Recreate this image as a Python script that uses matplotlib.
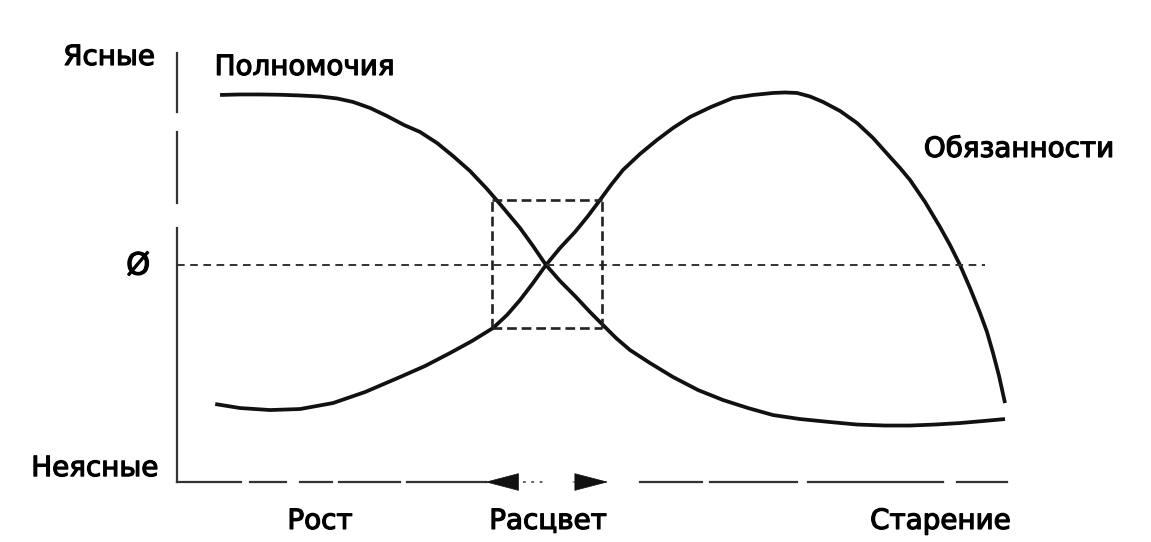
import matplotlib
matplotlib.use("Agg")
import matplotlib.pyplot as plt
import matplotlib.patheffects as pe

# Кривые жизненного цикла: время (0..100) и ясность (-100 = неясные, 100 = ясные)
power_x = [5.21, 7.63, 10.05, 12.47, 14.89, 17.31, 19.37, 21.31, 23.37, 25.42, 27.48,
           29.42, 31.48, 33.41, 35.47, 37.53, 39.10, 41.53, 43.10, 44.67, 46.37, 48.18,
           50.00, 51.57, 53.15, 54.84, 57.26, 60.05, 63.08, 66.10, 69.13, 72.15, 75.42,
           79.06, 82.32, 85.71, 88.74, 91.77, 94.79, 97.58, 100.24]
power_y = [81.73, 81.97, 81.97, 81.83, 81.49, 81.01, 80.05, 78.37, 75.48, 71.63, 67.30,
           63.94, 58.65, 52.40, 45.19, 36.54, 29.33, 17.79, 9.13, 0.0, -7.69, -14.90,
           -22.60, -28.85, -35.10, -40.87, -47.12, -53.85, -60.10, -64.90, -68.75, -72.12,
           -74.04, -75.48, -76.68, -77.16, -77.16, -76.68, -75.96, -75.00, -74.04]

duty_x = [4.63, 7.63, 11.26, 14.89, 18.89, 22.76, 27.00, 30.02, 33.05, 35.71, 38.26,
          39.95, 41.53, 43.10, 44.67, 46.37, 48.18, 49.76, 51.21, 52.54, 53.99, 56.05,
          58.11, 60.05, 62.11, 64.65, 67.31, 69.73, 72.15, 73.61, 75.06, 76.63, 78.21,
          80.27, 82.32, 84.26, 86.32, 87.53, 88.74, 90.56, 92.37, 93.58, 94.79, 96.00,
          97.22, 98.06, 98.79, 99.52, 100.24]
duty_y = [-66.83, -68.75, -69.71, -69.23, -66.35, -61.06, -53.85, -48.56, -42.31, -36.54,
          -30.29, -24.04, -16.83, -8.65, 0.0, 8.17, 15.87, 23.56, 31.25, 38.46, 45.67,
          53.37, 60.10, 65.87, 71.15, 75.96, 80.29, 81.73, 82.69, 82.93, 82.69, 81.01,
          78.37, 74.04, 68.27, 61.06, 51.92, 46.63, 40.87, 30.29, 18.27, 9.62, 0.0,
          -11.06, -23.08, -32.21, -42.31, -53.37, -66.35]

# Зона расцвета (прямоугольник вокруг пересечения)
bloom_x = [38.1, 51.4]
bloom_y = [-30.3, 31.3]

level_labels = ["Ясные", "Ø", "Неясные"]
phase_labels = ["Рост", "Расцвет", "Старение"]
phase_pos = [17.3, 44.9, 92.4]

plt.rcParams['font.family'] = ['DejaVu Sans']
plt.rcParams['lines.scale_dashes'] = False

fig = plt.figure(figsize=(11.51, 5.42), dpi=100)
ax = fig.add_axes([0.15378, 0.1107, 0.72111, 0.79151])
ax.set_xlim(0, 100.48)
ax.set_ylim(-104.3, 101.9)
ax.set_xticks([])
ax.set_yticks([])
ax.spines['top'].set_visible(False)
ax.spines['right'].set_visible(False)

k = 0.72  # пиксели -> точки
for s in ['left', 'bottom']:
    ax.spines[s].set_color('#333333')
    ax.spines[s].set_linewidth(1.6)
ax.spines['left'].set_linestyle((0, [v * k for v in (254, 25, 71, 20, 59, 40)]))
ax.spines['bottom'].set_linestyle((0, [v * k for v in (64, 9, 36, 14, 32, 7, 61, 7, 79, 154,
                                                        62, 8, 87, 11, 135, 14, 50, 50)]))

# Кривые
ax.plot(power_x, power_y, color='#111111', lw=2.7, solid_capstyle='butt', solid_joinstyle='round')
ax.plot(duty_x, duty_y, color='#111111', lw=2.7, solid_capstyle='butt', solid_joinstyle='round')

# Линия нуля
ax.plot([0, 97.8], [0, 0], color='#333333', lw=1.4, ls=(0, (5.5, 4)))

# Прямоугольник
box_kw = dict(color='#222222', lw=1.9, ls=(0, (7, 3.5)))
ax.plot([bloom_x[0], bloom_x[1]], [bloom_y[1], bloom_y[1]], **box_kw)
ax.plot([bloom_x[0], bloom_x[1]], [bloom_y[0], bloom_y[0]], **box_kw)
ax.plot([bloom_x[0], bloom_x[0]], [bloom_y[0], bloom_y[1]], **box_kw)
ax.plot([bloom_x[1], bloom_x[1]], [bloom_y[0], bloom_y[1]], **box_kw)

# Стрелки фазы расцвета на оси времени
ybot = -104.3
arrow = dict(arrowstyle='-|>,head_length=1.15,head_width=0.3', color='#111111',
             lw=0.5, shrinkA=0, shrinkB=0, mutation_scale=20)
ax.annotate('', xy=(37.3, ybot), xytext=(41.3, ybot), arrowprops=arrow, annotation_clip=False)
ax.annotate('', xy=(52.2, ybot), xytext=(47.9, ybot), arrowprops=arrow, annotation_clip=False)
ax.plot([41.9, 44.8], [ybot, ybot], color='#555555', lw=1.3, ls=(0, (2, 4)), clip_on=False)

fs = 20
bold = [pe.withStroke(linewidth=0.9, foreground='black')]
ax.text(-2.7, 100.0, level_labels[0], fontsize=fs, ha='right', va='center', path_effects=bold)
ax.text(-4.7, -0.5, level_labels[1], fontsize=22, ha='center', va='center', path_effects=bold)
ax.text(-2.3, -97.6, level_labels[2], fontsize=fs, ha='right', va='center', path_effects=bold)

ax.text(15.4, 95.2, "Полномочия", fontsize=fs, ha='center', va='center', path_effects=bold)
ax.text(101.9, 55.8, "Обязанности", fontsize=fs, ha='center', va='center', path_effects=bold)

for lab, xp in zip(phase_labels, phase_pos):
    ax.text(xp, -123, lab, fontsize=fs, ha='center', va='center', path_effects=bold)

fig.savefig('out.png', dpi=100, facecolor='white')
